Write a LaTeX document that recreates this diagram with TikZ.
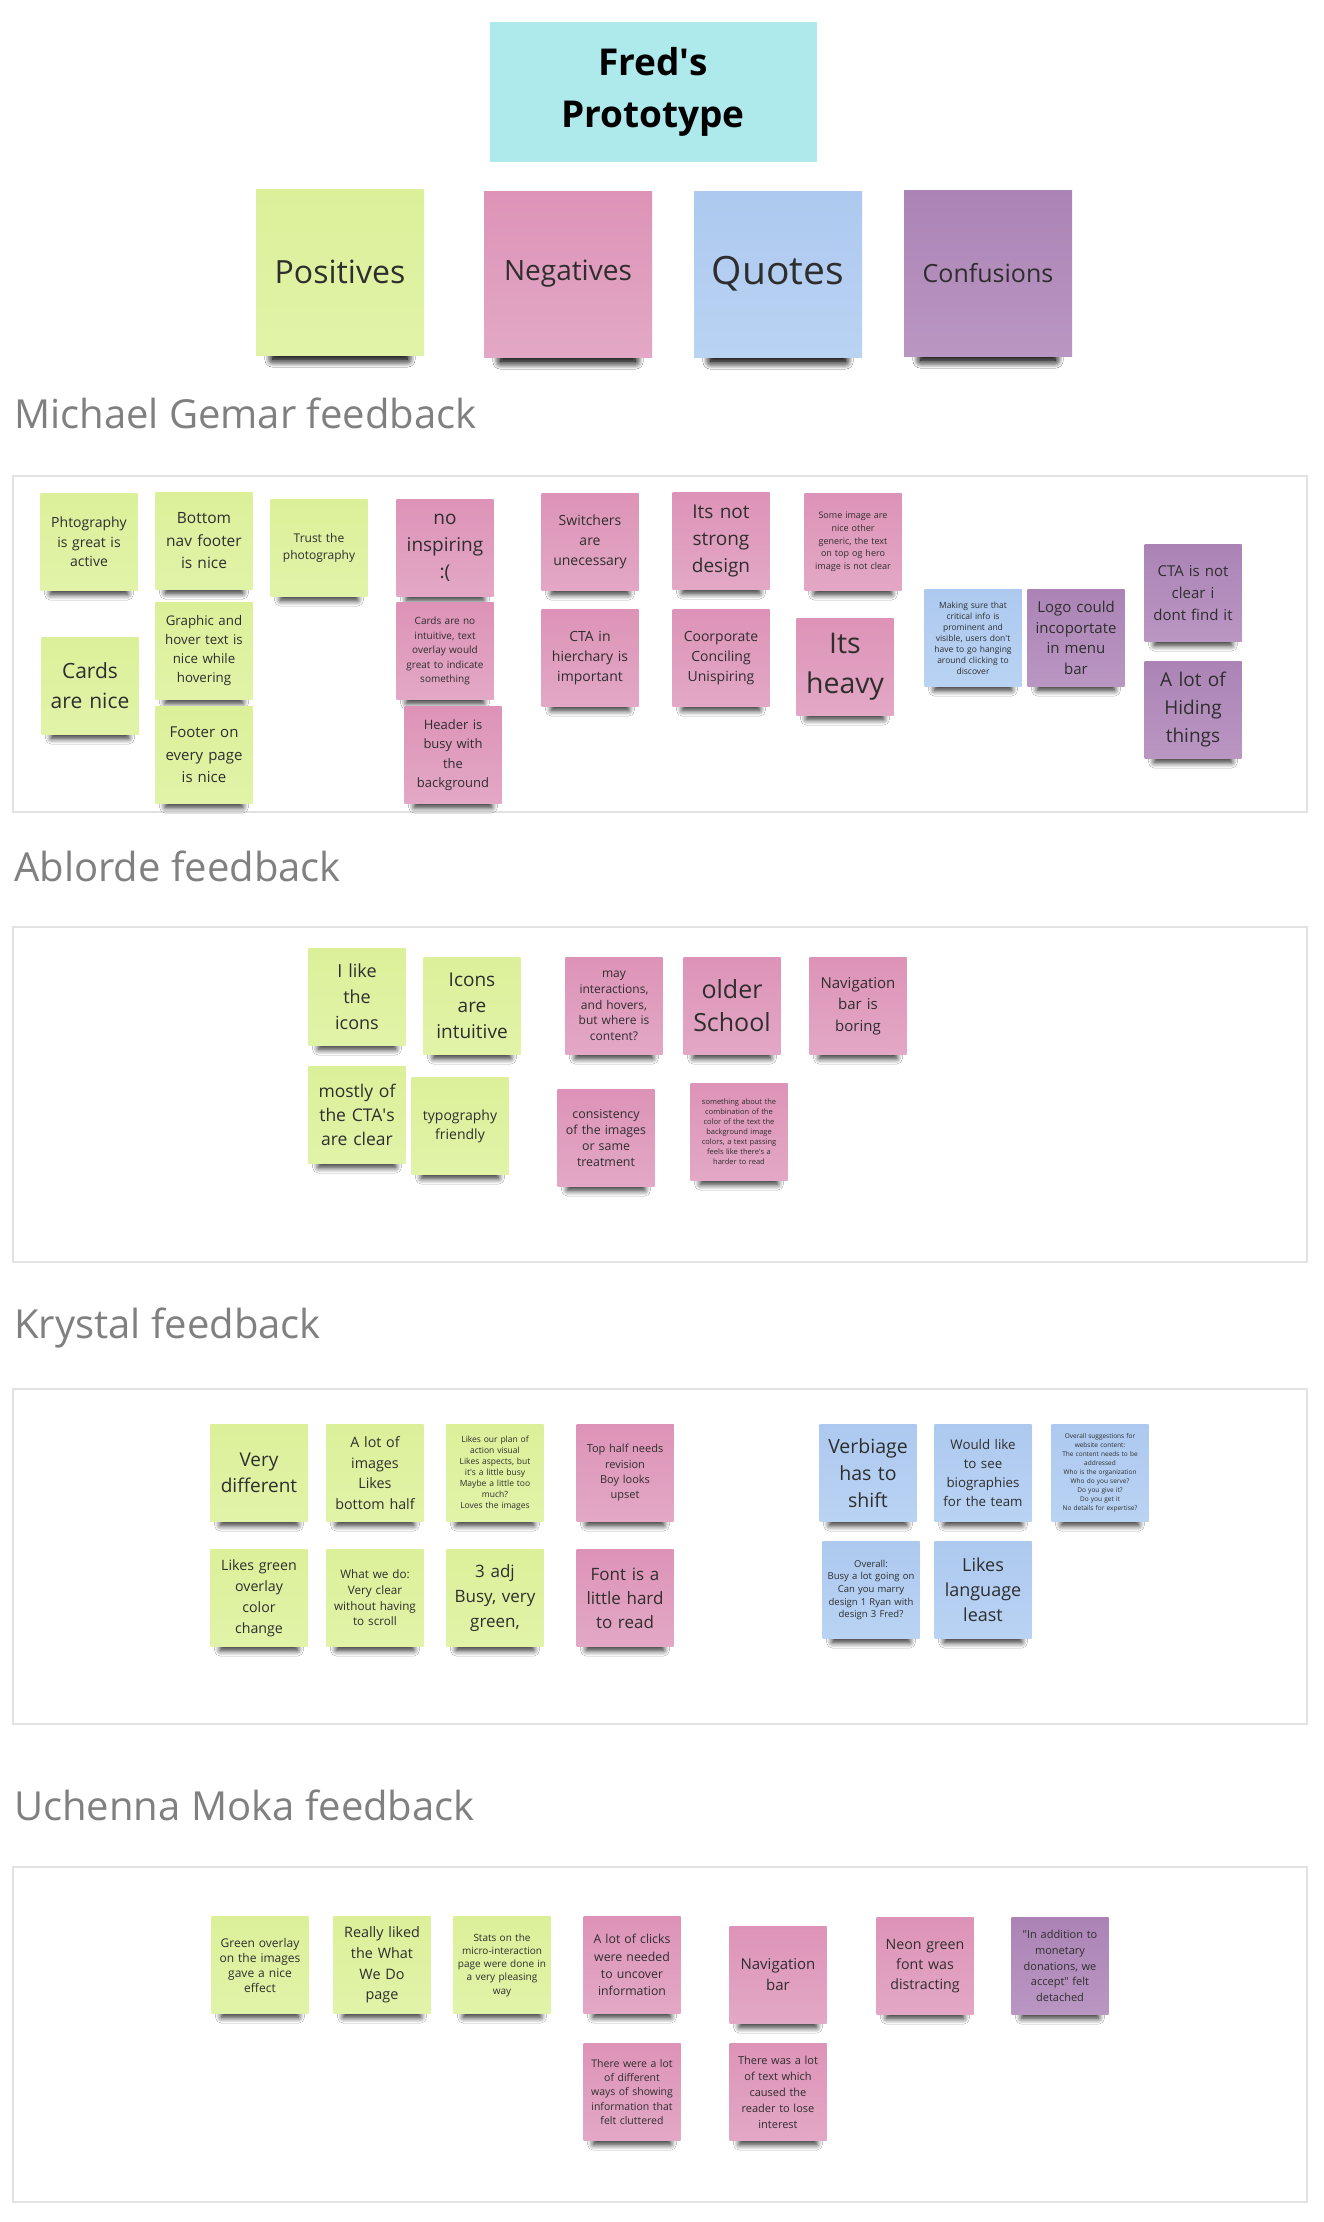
\documentclass[tikz,border=0pt]{standalone}
\usepackage{fontspec}
\setmainfont{Open Sans}
\usepackage{xcolor}
\usepackage{tikz}
\usetikzlibrary{shadows.blur}
\definecolor{posgreen}{HTML}{DCF09A}
\definecolor{posgreenlo}{HTML}{E1F3A8}
\definecolor{negpink}{HTML}{DD93B7}
\definecolor{negpinklo}{HTML}{E3A8C6}
\definecolor{quoblue}{HTML}{ADC9EF}
\definecolor{quobluelo}{HTML}{B9D3F3}
\definecolor{confpurple}{HTML}{AB84B5}
\definecolor{confpurplelo}{HTML}{BA96C3}
\definecolor{titlecyan}{HTML}{AEE9EC}
\definecolor{notetext}{HTML}{2E2E2E}
\definecolor{headgray}{HTML}{808080}
\definecolor{panelgray}{HTML}{E2E2E2}
\newcommand{\fsz}[2]{\fontsize{#1}{#2}\selectfont}
\newcommand{\ap}{\textquotesingle}

\begin{document}
\begin{tikzpicture}[x=1pt,y=-1pt,
	sticky/.style={minimum width=97pt,minimum height=97pt,inner sep=0pt,text width=95pt,align=center,text=notetext,
		blur shadow={shadow xshift=0pt,shadow yshift=-17pt,shadow scale=0.8,shadow opacity=85,shadow blur radius=7pt,shadow blur steps=10}},
	greennote/.style={sticky,top color=posgreen,bottom color=posgreenlo},
	pinknote/.style={sticky,top color=negpink,bottom color=negpinklo},
	bluenote/.style={sticky,top color=quoblue,bottom color=quobluelo},
	purplenote/.style={sticky,top color=confpurple,bottom color=confpurplelo},
	catnote/.style={minimum width=168pt,minimum height=166pt,text width=166pt,
		blur shadow={shadow xshift=0pt,shadow yshift=-26pt,shadow scale=0.8,shadow opacity=85,shadow blur radius=10pt,shadow blur steps=10}},
	panel/.style={draw=panelgray,line width=2.5pt,fill=white},
	heading/.style={anchor=west,inner sep=0pt,text=headgray,font=\fsz{40}{48}}]
		\useasboundingbox (0,0) rectangle (1324,2222);
		\fill[white] (0,0) rectangle (1324,2222);
		% title and categories
		\node[fill=titlecyan,minimum width=327pt,minimum height=140pt,align=center,font=\bfseries\fsz{37}{52}] (title) at (653,92) {Fred\ap s\\Prototype};
		\node[greennote,catnote,font=\fsz{32}{40}] (positives) at (340,272) {Positives};
		\node[pinknote,catnote,font=\fsz{28}{36}] (negatives) at (568,274) {Negatives};
		\node[bluenote,catnote,font=\fsz{39}{46}] (quotes) at (778,274) {Quotes};
		\node[purplenote,catnote,font=\fsz{25}{32}] (confusions) at (988,273) {Confusions};
		% section frames
		\draw[panel] (13,476) rectangle (1307,812);
		\draw[panel] (13,927) rectangle (1307,1262);
		\draw[panel] (13,1389) rectangle (1307,1724);
		\draw[panel] (13,1867) rectangle (1307,2202);
		\node[heading] (michael) at (14,413) {Michael Gemar feedback};
		\node[heading] (ablorde) at (14,866) {Ablorde feedback};
		\node[heading] (krystal) at (14,1328) {Krystal feedback};
		\node[heading] (uchenna) at (14,1805) {Uchenna Moka feedback};
		% Michael Gemar
		\node[greennote,font=\fsz{14}{19.5}] (m1) at (89,542) {Phtography\\is great is\\active};
		\node[greennote,font=\fsz{15.5}{22.5}] (m2) at (204,541) {Bottom\\nav footer\\is nice};
		\node[greennote,font=\fsz{12}{17}] (m3) at (319,548) {Trust the\\photography};
		\node[pinknote,font=\fsz{19}{27}] (m4) at (445,548) {no\\inspiring\\:(};
		\node[greennote,font=\fsz{21}{30}] (m5) at (90,686) {Cards\\are nice};
		\node[greennote,font=\fsz{13.3}{19}] (m6) at (204,651) {Graphic and\\hover text is\\nice while\\hovering};
		\node[greennote,font=\fsz{15}{22.5}] (m7) at (204,755) {Footer on\\every page\\is nice};
		\node[pinknote,font=\fsz{10}{14.4}] (m8) at (445,651) {Cards are no\\intuitive, text\\overlay would\\great to indicate\\something};
		\node[pinknote,font=\fsz{13}{19.3}] (m9) at (453,755) {Header is\\busy with\\the\\background};
		\node[pinknote,font=\fsz{14}{20}] (m10) at (590,542) {Switchers\\are\\unecessary};
		\node[pinknote,font=\fsz{19}{27}] (m11) at (721,541) {Its not\\strong\\design};
		\node[pinknote,font=\fsz{9}{12.7}] (m12) at (853,542) {Some image are\\nice other\\generic, the text\\on top og hero\\image is not clear};
		\node[pinknote,font=\fsz{14}{20}] (m13) at (590,658) {CTA in\\hierchary is\\important};
		\node[pinknote,font=\fsz{14}{20}] (m14) at (721,658) {Coorporate\\Conciling\\Unispiring};
		\node[pinknote,font=\fsz{28.5}{40}] (m15) at (845,667) {Its\\heavy};
		\node[bluenote,font=\fsz{8.5}{11}] (m16) at (973,638) {Making sure that\\critical info is\\prominent and\\visible, users don\ap t\\have to go hanging\\around clicking to\\discover};
		\node[purplenote,font=\fsz{15}{20.7}] (m17) at (1076,638) {Logo could\\incoportate\\in menu\\bar};
		\node[purplenote,font=\fsz{15}{21.7}] (m18) at (1193,593) {CTA is not\\clear i\\dont find it};
		\node[purplenote,font=\fsz{19}{28}] (m19) at (1193,710) {A lot of\\Hiding\\things};
		% Ablorde
		\node[greennote,font=\fsz{18}{26}] (a1) at (357,997) {I like\\the\\icons};
		\node[greennote,font=\fsz{19}{26}] (a2) at (472,1006) {Icons\\are\\intuitive};
		\node[greennote,font=\fsz{17.5}{24}] (a3) at (357,1115) {mostly of\\the CTA\ap s\\are clear};
		\node[greennote,font=\fsz{14}{19}] (a4) at (460,1126) {typography\\friendly};
		\node[pinknote,font=\fsz{12}{15.7}] (a5) at (614,1006) {may\\interactions,\\and hovers,\\but where is\\content?};
		\node[pinknote,font=\fsz{25}{33}] (a6) at (732,1006) {older\\School};
		\node[pinknote,font=\fsz{15}{21.7}] (a7) at (858,1006) {Navigation\\bar is\\boring};
		\node[pinknote,font=\fsz{12.4}{16}] (a8) at (606,1138) {consistency\\of the images\\or same\\treatment};
		\node[pinknote,font=\fsz{7.5}{10}] (a9) at (739,1132) {something about the\\combination of the\\color of the text the\\background image\\colors, a text passing\\feels like there\ap s a\\harder to read};
		% Krystal
		\node[greennote,font=\fsz{19}{26}] (k1) at (259,1473) {Very\\different};
		\node[greennote,font=\fsz{14.3}{20.7}] (k2) at (375,1473) {A lot of\\images\\Likes\\bottom half};
		\node[greennote,font=\fsz{8.5}{11}] (k3) at (495,1473) {Likes our plan of\\action visual\\Likes aspects, but\\it\ap s a little busy\\Maybe a little too\\much?\\Loves the images};
		\node[pinknote,font=\fsz{11}{15.3}] (k4) at (625,1473) {Top half needs\\revision\\Boy looks\\upset};
		\node[greennote,font=\fsz{14.2}{21}] (k5) at (259,1598) {Likes green\\overlay\\color\\change};
		\node[greennote,font=\fsz{11.7}{15.7}] (k6) at (375,1598) {What we do:\\Very clear\\without having\\to scroll};
		\node[greennote,font=\fsz{17}{25}] (k7) at (495,1598) {3 adj\\Busy, very\\green,};
		\node[pinknote,font=\fsz{17}{24}] (k8) at (625,1598) {Font is a\\little hard\\to read};
		\node[bluenote,font=\fsz{19.5}{27}] (k9) at (868,1473) {Verbiage\\has to\\shift};
		\node[bluenote,font=\fsz{13.3}{19}] (k10) at (983,1473) {Would like\\to see\\biographies\\for the team};
		\node[bluenote,font=\fsz{6.5}{9}] (k11) at (1100,1473) {Overall suggestions for\\website content:\\The content needs to be\\addressed\\Who is the organization\\Who do you serve?\\Do you give it?\\Do you get it\\No details for expertise?};
		\node[bluenote,font=\fsz{9.5}{12.7}] (k12) at (871,1590) {Overall:\\Busy a lot going on\\Can you marry\\design 1 Ryan with\\design 3 Fred?};
		\node[bluenote,font=\fsz{18}{25}] (k13) at (983,1590) {Likes\\language\\least};
		% Uchenna Moka
		\node[greennote,font=\fsz{12}{15}] (u1) at (260,1965) {Green overlay\\on the images\\gave a nice\\effect};
		\node[greennote,font=\fsz{14.4}{20.7}] (u2) at (382,1965) {Really liked\\the What\\We Do\\page};
		\node[greennote,font=\fsz{10}{13.3}] (u3) at (502,1965) {Stats on the\\micro-interaction\\page were done in\\a very pleasing\\way};
		\node[pinknote,font=\fsz{12.3}{17.3}] (u4) at (632,1965) {A lot of clicks\\were needed\\to uncover\\information};
		\node[pinknote,font=\fsz{10.5}{14.3}] (u5) at (632,2092) {There were a lot\\of different\\ways of showing\\information that\\felt cluttered};
		\node[pinknote,font=\fsz{15}{21}] (u6) at (778,1975) {Navigation\\bar};
		\node[pinknote,font=\fsz{11}{16}] (u7) at (778,2092) {There was a lot\\of text which\\caused the\\reader to lose\\interest};
		\node[pinknote,font=\fsz{14.2}{20}] (u8) at (925,1966) {Neon green\\font was\\distracting};
		\node[purplenote,font=\fsz{11}{15.7}] (u9) at (1060,1966) {\textquotedbl In addition to\\monetary\\donations, we\\accept\textquotedbl\ felt\\detached};
	\end{tikzpicture}
\end{document}
